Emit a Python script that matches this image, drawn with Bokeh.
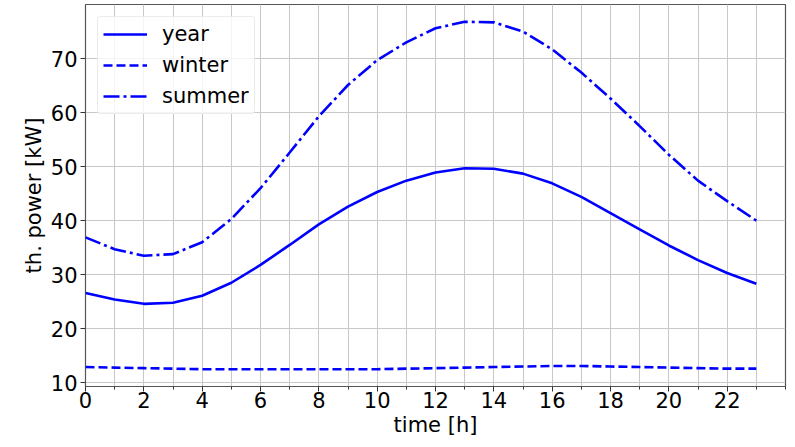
from bokeh.plotting import figure
from bokeh.models import FixedTicker, Range1d, Legend, LegendItem
from bokeh.embed import file_html
from bokeh.resources import INLINE

hours = list(range(24))
year = [26.6, 25.4, 24.6, 24.8, 26.1, 28.5, 31.8, 35.5, 39.3, 42.6, 45.3, 47.4, 48.9, 49.7, 49.6, 48.7, 46.9, 44.4, 41.4, 38.4, 35.4, 32.7, 30.3, 28.3]
winter = [12.9, 12.8, 12.7, 12.6, 12.5, 12.5, 12.5, 12.5, 12.5, 12.5, 12.5, 12.6, 12.7, 12.8, 12.9, 13.0, 13.1, 13.1, 13.0, 12.9, 12.8, 12.7, 12.6, 12.6]
summer = [36.9, 34.7, 33.5, 33.8, 36.0, 40.3, 46.0, 52.6, 59.3, 65.1, 69.7, 73.0, 75.6, 76.8, 76.7, 75.0, 71.7, 67.4, 62.6, 57.5, 52.2, 47.4, 43.6, 40.0]
x_major = list(range(0, 24, 2))
x_minor = list(range(0, 25))
y_major = [10, 20, 30, 40, 50, 60, 70]

FONT = "DejaVu Sans"
FS = "21px"

p = figure(width=787, height=439, output_backend="svg", toolbar_location=None,
           x_range=Range1d(0, 24), y_range=Range1d(9.3, 80.0),
           min_border_left=85, min_border_right=2, min_border_top=4, min_border_bottom=0)
p.background_fill_color = "white"
p.outline_line_color = "#555555"
p.outline_line_width = 1.2

p.xaxis.ticker = FixedTicker(ticks=x_major, minor_ticks=x_minor)
p.yaxis.ticker = FixedTicker(ticks=y_major, minor_ticks=[])
p.xaxis.axis_label = "time [h]"
p.yaxis.axis_label = "th. power [kW]"
for ax in (p.xaxis, p.yaxis):
    ax.axis_label_text_font = FONT
    ax.axis_label_text_font_size = FS
    ax.axis_label_text_font_style = "normal"
    ax.axis_label_text_color = "black"
    ax.major_label_text_font = FONT
    ax.major_label_text_font_size = FS
    ax.major_label_text_color = "black"
    ax.axis_line_color = None
    ax.major_tick_line_color = "#333333"
    ax.minor_tick_line_color = "#333333"
    ax.major_tick_out = 5
    ax.major_tick_in = 0
    ax.minor_tick_out = 3
    ax.minor_tick_in = 0
p.xaxis.major_label_standoff = 0
p.xaxis.axis_label_standoff = 2
p.yaxis.major_label_standoff = 3
p.yaxis.axis_label_standoff = 2
p.yaxis.minor_tick_line_color = None

p.xgrid.grid_line_color = "#c8c8c8"
p.xgrid.grid_line_width = 1
p.xgrid.minor_grid_line_color = "#c8c8c8"
p.xgrid.minor_grid_line_width = 1
p.ygrid.grid_line_color = "#c8c8c8"
p.ygrid.grid_line_width = 1

r1 = p.line(hours, year, line_color="#0000ff", line_width=2.6)
r2 = p.line(hours, winter, line_color="#0000ff", line_width=2.6, line_dash="9 4")
r3 = p.line(hours, summer, line_color="#0000ff", line_width=2.6, line_dash="16 4 3 4")

legend = Legend(items=[LegendItem(label="year", renderers=[r1]),
                       LegendItem(label="winter", renderers=[r2]),
                       LegendItem(label="summer", renderers=[r3])],
                location="top_left")
legend.label_text_font = FONT
legend.label_text_font_size = FS
legend.label_text_color = "black"
legend.glyph_width = 44
legend.glyph_height = 24
legend.label_standoff = 15
legend.spacing = 7
legend.padding = 5
legend.margin = 12
legend.border_line_color = "#d8d8d8"
legend.border_line_width = 1
legend.border_radius = 4
legend.background_fill_alpha = 0.8
p.add_layout(legend)

open("out.html", "w").write(file_html(p, INLINE))
